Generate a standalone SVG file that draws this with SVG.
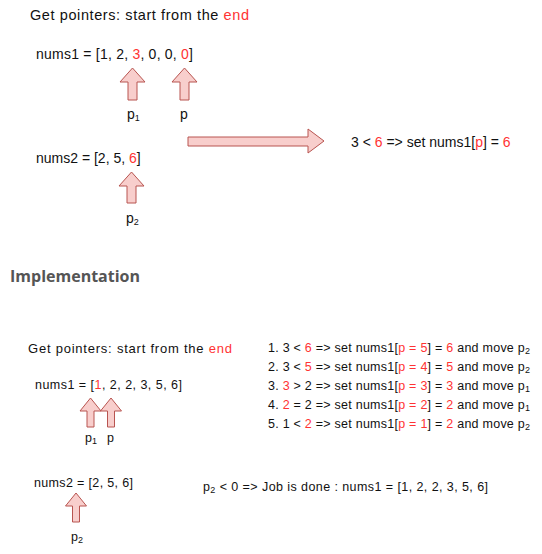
<svg xmlns="http://www.w3.org/2000/svg" width="542" height="554" viewBox="0 0 542 554">
<style>
text{font-family:"Liberation Sans",Arial,sans-serif;fill:#111}
.t1{font-size:14px}
.t2{font-size:12.5px}
.r{fill:#ff3333}
.sub{font-size:9px}
.h{font-family:"Open Sans","Noto Sans",sans-serif;font-weight:bold;font-size:16px;fill:#555}
.ar{fill:#f8cecc;stroke:#b85450;stroke-width:1}
</style>
<rect width="542" height="554" fill="#fff"/>
<g id="top-title"><text class="t1" x="30" y="20" style="font-size:14.5px" textLength="219" lengthAdjust="spacing">Get pointers: start from the <tspan class="r">end</tspan></text></g>
<g id="top-nums1"><text class="t1" x="36" y="59" textLength="157" lengthAdjust="spacing">nums1 = [1, 2, <tspan class="r">3</tspan>, 0, 0, <tspan class="r">0</tspan>]</text></g>
<g id="top-p1-arrow"><path class="ar" d="M132.5,68 L145,82 L137,82 L137,100 L128,100 L128,82 L120,82 Z"/></g>
<g id="top-p1-label"><text class="t1" x="127" y="119">p<tspan class="sub" dy="2">1</tspan></text></g>
<g id="top-p-arrow"><path class="ar" d="M184.5,68 L197,82 L189,82 L189,100 L180,100 L180,82 L172,82 Z"/></g>
<g id="top-p-label"><text class="t1" x="180" y="119">p</text></g>
<g id="top-nums2"><text class="t1" x="36" y="163">nums2 = [2, 5, <tspan class="r">6</tspan>]</text></g>
<g id="top-p2-arrow"><path class="ar" d="M131.5,172 L144,186 L136,186 L136,203 L127,203 L127,186 L119,186 Z"/></g>
<g id="top-p2-label"><text class="t1" x="126" y="223">p<tspan class="sub" dy="2">2</tspan></text></g>
<g id="connectors"><path class="ar" d="M188,137 L308,137 L308,129 L324,141 L308,153 L308,146 L188,146 Z"/></g>
<g id="top-result"><text class="t1" x="351" y="147">3 &lt; <tspan class="r">6</tspan> =&gt; set nums1[<tspan class="r">p</tspan>] = <tspan class="r">6</tspan></text></g>
<g id="heading"><text class="h" x="10" y="282">Implementation</text></g>
<g id="impl-title"><text class="t2" x="28" y="353" style="font-size:13px" textLength="204" lengthAdjust="spacing">Get pointers: start from the <tspan class="r">end</tspan></text></g>
<g id="impl-nums1"><text class="t2" x="35" y="389" textLength="147" lengthAdjust="spacing">nums1 = [<tspan class="r">1</tspan>, 2, 2, 3, 5, 6]</text></g>
<g id="impl-p1-arrow"><path class="ar" d="M90.5,398 L101,411 L94,411 L94,427 L87,427 L87,411 L80,411 Z"/></g>
<g id="impl-p-arrow"><path class="ar" d="M111,398 L121.5,411 L114.5,411 L114.5,427 L107.5,427 L107.5,411 L100.5,411 Z"/></g>
<g id="impl-p1-label"><text class="t2" x="85" y="442">p<tspan class="sub" dy="2">1</tspan></text></g>
<g id="impl-p-label"><text class="t2" x="107" y="442">p</text></g>
<g id="impl-steps">
<text class="t2" x="268" y="352" textLength="262" lengthAdjust="spacing">1. 3 &lt; <tspan class="r">6</tspan> =&gt; set nums1[<tspan class="r">p = 5</tspan>] = <tspan class="r">6</tspan> and move p<tspan class="sub" dy="2">2</tspan></text>
<text class="t2" x="268" y="371" textLength="262" lengthAdjust="spacing">2. 3 &lt; <tspan class="r">5</tspan> =&gt; set nums1[<tspan class="r">p = 4</tspan>] = <tspan class="r">5</tspan> and move p<tspan class="sub" dy="2">2</tspan></text>
<text class="t2" x="268" y="390" textLength="262" lengthAdjust="spacing">3. <tspan class="r">3</tspan> &gt; 2 =&gt; set nums1[<tspan class="r">p = 3</tspan>] = <tspan class="r">3</tspan> and move p<tspan class="sub" dy="2">1</tspan></text>
<text class="t2" x="268" y="409" textLength="262" lengthAdjust="spacing">4. <tspan class="r">2</tspan> = 2 =&gt; set nums1[<tspan class="r">p = 2</tspan>] = <tspan class="r">2</tspan> and move p<tspan class="sub" dy="2">1</tspan></text>
<text class="t2" x="268" y="428" textLength="262" lengthAdjust="spacing">5. 1 &lt; <tspan class="r">2</tspan> =&gt; set nums1[<tspan class="r">p = 1</tspan>] = <tspan class="r">2</tspan> and move p<tspan class="sub" dy="2">2</tspan></text>
</g>
<g id="impl-nums2"><text class="t2" x="34" y="487" textLength="99" lengthAdjust="spacing">nums2 = [2, 5, 6]</text></g>
<g id="impl-p2-arrow"><path class="ar" d="M76,493 L86.5,506 L79.5,506 L79.5,522 L72.5,522 L72.5,506 L65.5,506 Z"/></g>
<g id="impl-p2-label"><text class="t2" x="71" y="541">p<tspan class="sub" dy="2">2</tspan></text></g>
<g id="impl-done"><text class="t2" x="203" y="491" textLength="285" lengthAdjust="spacing">p<tspan class="sub" dy="2">2</tspan><tspan dy="-2"> &lt; 0 =&gt; Job is done : nums1 = [1, 2, 2, 3, 5, 6]</tspan></text></g>
</svg>
